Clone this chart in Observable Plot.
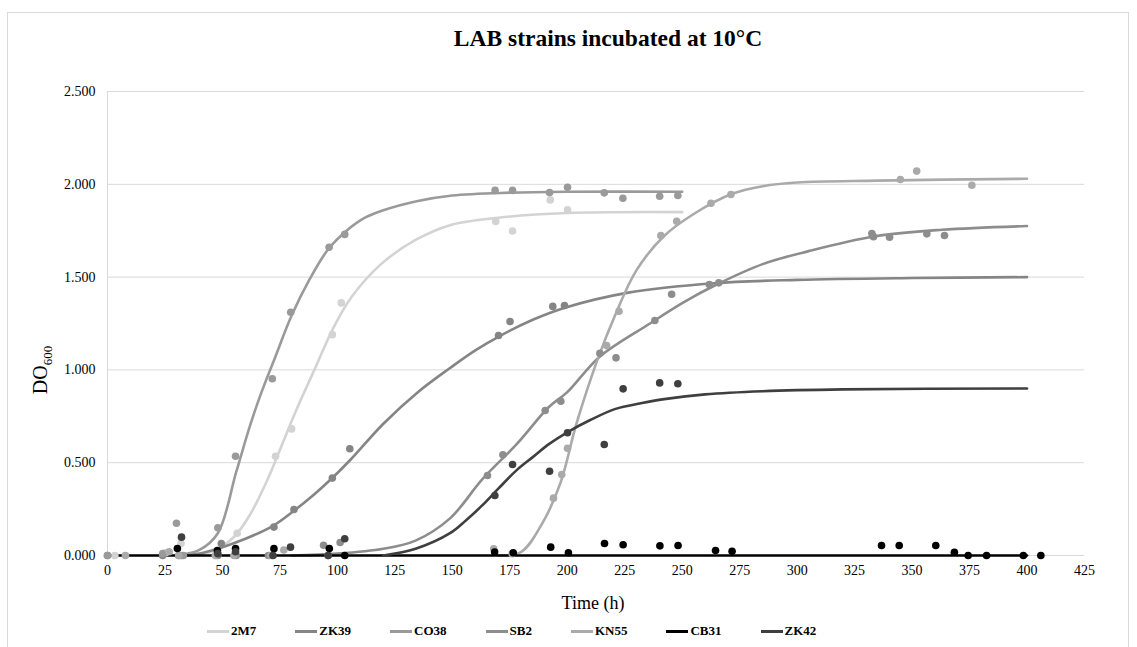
<!DOCTYPE html>
<html><head><meta charset="utf-8">
<script src="https://cdn.jsdelivr.net/npm/d3@7"></script>
<script src="https://cdn.jsdelivr.net/npm/@observablehq/plot@0.6"></script>
<style>
body{margin:0;background:#fff;font-family:"Liberation Serif","Times New Roman",serif;color:#000;}
#wrap{position:relative;width:1137px;height:647px;overflow:hidden;background:#fff;}
#frame{position:absolute;left:7px;top:12px;width:1122px;height:700px;border:1px solid #d9d9d9;box-sizing:border-box;}
#chart{position:absolute;left:0;top:0;}
#chart svg, #chart svg text{font-family:"Liberation Serif","Times New Roman",serif !important;}
#title{position:absolute;top:25px;left:308px;width:600px;text-align:center;font-weight:bold;font-size:23.5px;}
#ylab{position:absolute;left:42px;top:370px;transform:translate(-50%,-50%) rotate(-90deg);font-size:20px;white-space:nowrap;}
#ylab sub{font-size:13px;}
#xlab{position:absolute;top:593px;left:493px;width:200px;text-align:center;font-size:18px;}
#legend{position:absolute;top:623px;left:207px;display:flex;gap:39px;font-weight:bold;font-size:13px;align-items:center;}
#legend .it{display:flex;align-items:center;}
#legend .sw{width:22px;height:3px;margin-right:2px;}
</style></head>
<body>
<div id="wrap">
<div id="frame"></div>
<div id="chart"></div>
<div id="title">LAB strains incubated at 10°C</div>
<div id="ylab">DO<sub>600</sub></div>
<div id="xlab">Time (h)</div>
<div id="legend"></div>
</div>
<script>
// ---- data ----
const strains = ["2M7", "ZK39", "CO38", "SB2", "KN55", "CB31", "ZK42"];
const colors  = ["#d3d3d3", "#858585", "#9a9a9a", "#8d8d8d", "#aaaaaa", "#000000", "#3f3f3f"];

const xTicks = [0, 25, 50, 75, 100, 125, 150, 175, 200, 225, 250, 275, 300, 325, 350, 375, 400, 425];
const yTicks = [0, 0.5, 1, 1.5, 2, 2.5];

// fitted curves (time h, DO600)
const curve2M7_t  = [35, 45, 55, 62, 70, 76, 82, 90, 98, 106, 119, 134, 149, 170, 200, 250];
const curve2M7_v  = [0, 0.02, 0.10, 0.22, 0.42, 0.60, 0.78, 1.00, 1.22, 1.39, 1.57, 1.70, 1.78, 1.82, 1.845, 1.85];
const curveZK39_t = [30, 40, 50, 60, 72, 81, 90, 98, 106, 120, 135, 149, 160, 171, 185, 199, 226, 264, 300, 350, 400];
const curveZK39_v = [0, 0.01, 0.045, 0.09, 0.16, 0.24, 0.33, 0.42, 0.52, 0.71, 0.88, 1.01, 1.105, 1.185, 1.27, 1.335, 1.415, 1.467, 1.485, 1.495, 1.50];
const curveCO38_t = [30, 40, 48, 56, 62, 67, 73, 80, 88, 96, 104, 112, 120, 135, 150, 175, 200, 250];
const curveCO38_v = [0, 0.03, 0.12, 0.45, 0.70, 0.88, 1.07, 1.29, 1.49, 1.65, 1.75, 1.82, 1.86, 1.91, 1.94, 1.955, 1.96, 1.96];
const curveSB2_t  = [80, 100, 120, 134, 149, 163, 178, 192, 200, 214, 236, 250, 265, 285, 305, 334, 363, 400];
const curveSB2_v  = [0, 0.01, 0.036, 0.08, 0.20, 0.41, 0.60, 0.80, 0.88, 1.07, 1.25, 1.36, 1.46, 1.57, 1.64, 1.72, 1.755, 1.775];
const curveKN55_t = [170, 180, 189, 197, 204, 213, 221, 230, 242, 255, 272, 285, 300, 335, 400];
const curveKN55_v = [0, 0.02, 0.17, 0.39, 0.71, 1.05, 1.30, 1.535, 1.72, 1.84, 1.95, 1.99, 2.01, 2.02, 2.03];
const curveCB31_t = [0, 100, 200, 300, 400];
const curveCB31_v = [0, 0, 0, 0, 0];
const curveZK42_t = [120, 134, 149, 156, 163, 170, 178, 185, 192, 200, 210, 221, 232, 243, 260, 285, 320, 400];
const curveZK42_v = [0, 0.036, 0.12, 0.19, 0.27, 0.36, 0.46, 0.53, 0.60, 0.664, 0.73, 0.79, 0.82, 0.844, 0.868, 0.885, 0.895, 0.90];

// measured points
const pts2M7_t  = [3.2, 25.3, 32, 47, 56.4, 73.1, 80.1, 97.8, 101.7, 168.9, 176.2, 192.6, 200.1];
const pts2M7_v  = [0, 0.015, 0.065, 0, 0.12, 0.535, 0.682, 1.19, 1.361, 1.80, 1.748, 1.916, 1.862];
const ptsZK39_t = [0, 24, 32, 49.5, 72.4, 81.1, 97.8, 105.4, 170.1, 175.1, 193.7, 198.8];
const ptsZK39_v = [0, 0, 0, 0.065, 0.153, 0.248, 0.417, 0.575, 1.185, 1.261, 1.342, 1.347];
const ptsCO38_t = [0, 24, 30, 33, 48, 55.7, 71.7, 79.7, 96.4, 103.2, 168.6, 176.2, 192.3, 200.1, 216.1, 224.2, 240.2, 248.1];
const ptsCO38_v = [0, 0.01, 0.174, 0, 0.149, 0.535, 0.952, 1.311, 1.661, 1.73, 1.967, 1.967, 1.956, 1.984, 1.954, 1.925, 1.936, 1.94];
const ptsSB2_t  = [31, 48, 56, 70, 94, 96, 101.2, 165.3, 172, 190.4, 197.2, 214.2, 221.2, 238.1, 245.4, 261.8, 265.9, 332.5, 333.2, 340.2, 356.4, 364.1];
const ptsSB2_v  = [0, 0, 0, 0, 0.055, 0, 0.07, 0.431, 0.543, 0.781, 0.831, 1.09, 1.065, 1.266, 1.408, 1.46, 1.469, 1.735, 1.718, 1.715, 1.733, 1.724];
const ptsKN55_t = [7.8, 26.8, 31, 47, 55, 71, 76.7, 168, 176, 194, 197.6, 200.1, 217.1, 222.5, 240.7, 247.6, 262.5, 271.2, 344.9, 352, 376];
const ptsKN55_v = [0, 0.02, 0, 0, 0, 0, 0.03, 0.036, 0.01, 0.309, 0.436, 0.578, 1.131, 1.316, 1.724, 1.801, 1.898, 1.945, 2.026, 2.071, 1.995];
const ptsCB31_t = [30.4, 47.8, 55.7, 72.4, 96.5, 103.2, 168.4, 176.5, 192.8, 200.5, 216.2, 224.3, 240.3, 248.2, 264.5, 271.7, 336.7, 344.4, 360.3, 368.4, 374.4, 382.4, 398.4, 406];
const ptsCB31_v = [0.038, 0.027, 0.037, 0.037, 0.038, 0, 0.019, 0.015, 0.045, 0.015, 0.065, 0.058, 0.052, 0.054, 0.027, 0.023, 0.054, 0.054, 0.054, 0.017, 0, 0, 0, 0];
const ptsZK42_t = [32.2, 48, 55.7, 72, 79.6, 96, 103.2, 168.5, 176.2, 192.3, 200.1, 216.1, 224.3, 240.2, 248.1];
const ptsZK42_v = [0.099, 0.01, 0.02, 0, 0.045, 0, 0.09, 0.323, 0.49, 0.454, 0.661, 0.598, 0.898, 0.93, 0.925];

const curveT = [curve2M7_t, curveZK39_t, curveCO38_t, curveSB2_t, curveKN55_t, curveCB31_t, curveZK42_t];
const curveV = [curve2M7_v, curveZK39_v, curveCO38_v, curveSB2_v, curveKN55_v, curveCB31_v, curveZK42_v];
const ptsT = [pts2M7_t, ptsZK39_t, ptsCO38_t, ptsSB2_t, ptsKN55_t, ptsCB31_t, ptsZK42_t];
const ptsV = [pts2M7_v, ptsZK39_v, ptsCO38_v, ptsSB2_v, ptsKN55_v, ptsCB31_v, ptsZK42_v];

// ---- tables ----
const curveRows = [], pointRows = [];
strains.forEach((s, i) => {
  curveT[i].forEach((t, j) => curveRows.push({s, t, v: curveV[i][j]}));
  ptsT[i].forEach((t, j) => pointRows.push({s, t, v: ptsV[i][j]}));
});
const colorScale = {domain: strains, range: colors};

const chart = Plot.plot({
  width: 1137,
  height: 590,
  marginLeft: 107,
  marginRight: 53,
  marginTop: 91,
  marginBottom: 35,
  style: {fontFamily: "'Liberation Serif', 'Times New Roman', serif", fontSize: "14px", color: "#000", background: "transparent"},
  x: {domain: [0, 425]},
  y: {domain: [0, 2.5]},
  color: colorScale,
  marks: [
    Plot.gridY(yTicks.slice(1), {stroke: "#d9d9d9", strokeOpacity: 1}),
    Plot.ruleY([0], {stroke: "#d9d9d9"}),
    Plot.ruleX([0], {stroke: "#d9d9d9"}),
    Plot.axisY(yTicks, {tickSize: 0, tickPadding: 12, tickFormat: d3.format(".3f"), label: null, fontSize: 14, fontFamily: "Liberation Serif"}),
    Plot.axisX(xTicks, {tickSize: 0, tickPadding: 10, label: null, fontSize: 14, fontFamily: "Liberation Serif"}),
    Plot.line(curveRows, {x: "t", y: "v", z: "s", stroke: "s", strokeWidth: 2.6, curve: "catmull-rom"}),
    Plot.dot(pointRows, {x: "t", y: "v", fill: "s", r: 3.8})
  ]
});
document.getElementById("chart").appendChild(chart);

const leg = document.getElementById("legend");
strains.forEach((s, i) => {
  const it = document.createElement("div");
  it.className = "it";
  it.innerHTML = `<span class="sw" style="background:${colors[i]}"></span><span>${s}</span>`;
  leg.appendChild(it);
});
</script>
</body></html>
